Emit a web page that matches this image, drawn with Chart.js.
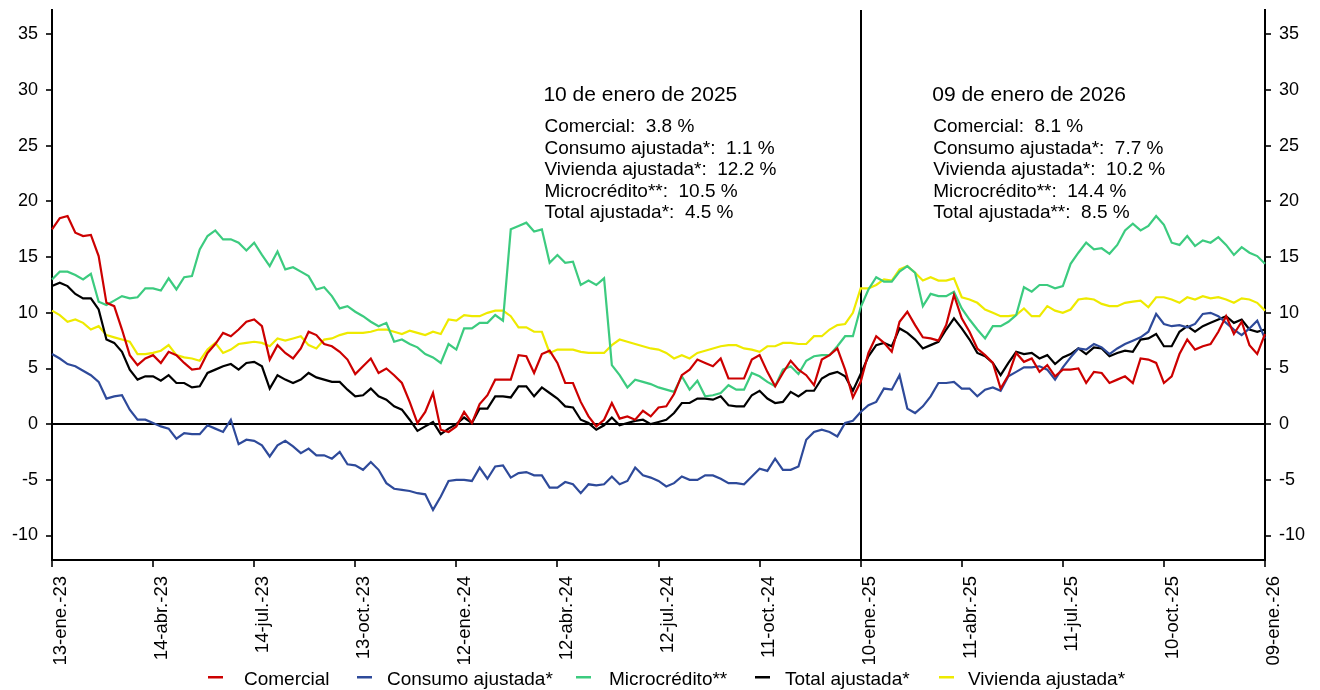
<!DOCTYPE html>
<html lang="es">
<head>
<meta charset="utf-8">
<title>Crecimiento real anual de la cartera</title>
<script src="https://cdn.jsdelivr.net/npm/chart.js@4.4.1/dist/chart.umd.min.js"></script>
<style>
  html, body { margin: 0; padding: 0; background: #fff; }
  #contenedor { width: 1320px; height: 690px; position: relative; }
</style>
</head>
<body>
<div id="contenedor"><canvas id="grafico"></canvas></div>
<script>
// Series semanales (%), desde 13-ene-23 hasta 09-ene-26
const comercial = [17.5, 18.5, 18.7, 17.2, 16.9, 17.0, 15.1, 10.9, 10.6, 8.5, 6.2, 5.3, 5.9, 6.2, 5.5, 6.5, 6.2, 5.5, 4.9, 5.0, 6.4, 7.2, 8.2, 7.9, 8.5, 9.2, 9.4, 8.8, 5.8, 7.1, 6.4, 5.9, 6.8, 8.3, 8.0, 7.2, 7.0, 6.5, 5.8, 4.5,
  5.2, 5.9, 4.6, 5.0, 4.4, 3.7, 2.0, 0.1, 1.1, 2.8, -0.5, -0.7, -0.2, 1.1, 0.1, 1.8, 2.6, 4.0, 4.0, 4.0, 6.2, 6.1, 4.6, 6.3, 6.6, 5.5, 3.7, 3.7, 2.0, 0.7, -0.2, 0.4, 1.9, 0.5, 0.7, 0.4, 1.2, 0.7, 1.5,
  1.6, 2.7, 4.4, 4.9, 5.8, 5.5, 5.2, 5.9, 4.1, 4.1, 4.1, 5.8, 6.2, 4.7, 3.4, 4.6, 5.7, 4.9, 4.4, 3.5, 5.8, 6.2, 6.8, 4.9, 2.4, 3.8, 6.4, 7.9, 7.3, 6.5, 9.2, 10.1, 8.9, 7.8, 7.7, 7.5, 8.9, 11.6,
  9.5, 8.3, 6.8, 6.2, 5.5, 3.2, 4.4, 6.4, 5.6, 5.9, 4.7, 5.3, 4.3, 4.9, 4.9, 5.0, 3.7, 4.7, 4.6, 3.7, 4.0, 4.3, 3.7, 5.9, 5.8, 5.5, 3.7, 4.3, 6.3, 7.6, 6.7, 7.0, 7.2, 8.3, 9.7, 8.1, 9.2, 7.1, 6.3, 8.1];

const consumo = [6.3, 5.9, 5.4, 5.2, 4.8, 4.4, 3.8, 2.3, 2.5, 2.6, 1.3, 0.4, 0.4, 0.1, -0.2, -0.4, -1.3, -0.8, -0.9, -0.9, -0.1, -0.4, -0.7, 0.4, -1.8, -1.4, -1.5, -1.9, -2.9, -1.9, -1.5, -2.0, -2.6, -2.2, -2.8, -2.8, -3.1, -2.5, -3.6, -3.7,
  -4.1, -3.4, -4.1, -5.3, -5.8, -5.9, -6.0, -6.2, -6.3, -7.7, -6.5, -5.1, -5.0, -5.0, -5.1, -3.9, -4.9, -3.8, -3.7, -4.8, -4.4, -4.3, -4.6, -4.6, -5.7, -5.7, -5.2, -5.4, -6.2, -5.4, -5.5, -5.4, -4.7, -5.4, -5.1, -3.9, -4.6, -4.8, -5.1,
  -5.6, -5.3, -4.7, -5.0, -5.0, -4.6, -4.6, -4.9, -5.3, -5.3, -5.4, -4.7, -4.0, -4.2, -3.1, -4.1, -4.1, -3.8, -1.4, -0.7, -0.5, -0.7, -1.1, 0.1, 0.3, 1.1, 1.7, 2.0, 3.2, 3.1, 4.4, 1.4, 1.0, 1.6, 2.5, 3.7, 3.7, 3.8,
  3.2, 3.2, 2.5, 3.1, 3.3, 3.0, 4.3, 4.7, 5.1, 5.1, 5.2, 4.9, 4.0, 5.1, 6.0, 6.8, 6.7, 7.2, 6.9, 6.3, 6.8, 7.2, 7.5, 7.8, 8.3, 9.9, 9.0, 8.8, 8.9, 8.7, 9.0, 9.9, 10.0, 9.7, 9.1, 8.5, 8.0, 8.6, 9.3, 7.7];

const microcredito = [13.0, 13.7, 13.7, 13.4, 13.0, 13.5, 11.0, 10.7, 11.1, 11.5, 11.3, 11.4, 12.2, 12.2, 12.0, 13.1, 12.1, 13.2, 13.3, 15.7, 16.9, 17.4, 16.6, 16.6, 16.3, 15.6, 16.3, 15.2, 14.2, 15.5, 13.9, 14.1, 13.7, 13.3, 12.1, 12.3, 11.5, 10.4, 10.6, 10.1,
  9.7, 9.2, 8.8, 9.1, 7.4, 7.6, 7.2, 6.9, 6.3, 6.0, 5.5, 7.2, 6.7, 8.6, 8.6, 9.1, 9.1, 9.8, 9.3, 17.5, 17.8, 18.1, 17.3, 17.5, 14.5, 15.2, 14.5, 14.6, 12.5, 12.9, 12.5, 13.1, 5.3, 4.4, 3.3, 4.0, 3.8, 3.6, 3.3,
  3.1, 2.9, 4.3, 3.1, 3.9, 2.5, 2.6, 2.8, 3.5, 3.1, 3.1, 4.6, 4.3, 3.8, 3.4, 4.9, 5.2, 4.5, 5.7, 6.1, 6.2, 6.2, 7.0, 7.9, 7.9, 10.5, 12.1, 13.2, 12.8, 12.8, 13.7, 14.2, 13.6, 10.6, 11.7, 11.5, 11.5, 11.9,
  10.4, 9.4, 8.5, 7.7, 8.8, 8.8, 9.2, 9.8, 12.3, 11.9, 12.5, 12.5, 12.2, 12.4, 14.4, 15.4, 16.3, 15.7, 15.8, 15.3, 16.1, 17.4, 18.0, 17.4, 17.8, 18.7, 17.9, 16.3, 16.1, 16.9, 16.0, 16.5, 16.3, 16.8, 16.1, 15.2, 15.9, 15.4, 15.1, 14.4];

const total = [12.4, 12.7, 12.4, 11.7, 11.3, 11.3, 10.3, 7.6, 7.3, 6.5, 4.9, 4.0, 4.3, 4.3, 3.9, 4.4, 3.7, 3.7, 3.3, 3.4, 4.6, 4.9, 5.2, 5.4, 4.9, 5.5, 5.6, 5.2, 3.2, 4.4, 4.0, 3.7, 4.0, 4.6, 4.2, 4.0, 3.8, 3.8, 3.1, 2.5,
  2.6, 3.2, 2.5, 2.2, 1.6, 1.3, 0.4, -0.6, -0.2, 0.2, -0.9, -0.4, 0.0, 0.6, 0.1, 1.4, 1.4, 2.5, 2.5, 2.4, 3.4, 3.4, 2.5, 3.3, 2.8, 2.3, 1.6, 1.5, 0.4, 0.1, -0.5, -0.1, 0.6, -0.1, 0.1, 0.3, 0.4, 0.0, 0.2,
  0.4, 1.0, 1.9, 1.9, 2.3, 2.3, 2.2, 2.5, 1.7, 1.6, 1.6, 2.6, 3.0, 2.3, 1.9, 2.0, 2.9, 2.5, 3.0, 3.0, 4.1, 4.5, 4.7, 4.3, 3.0, 4.5, 6.1, 7.1, 7.3, 7.0, 8.6, 8.2, 7.6, 6.8, 7.1, 7.4, 8.5, 9.5,
  8.6, 7.6, 6.4, 6.1, 5.5, 4.4, 5.5, 6.5, 6.3, 6.4, 5.9, 6.2, 5.4, 6.0, 6.3, 6.8, 6.3, 6.9, 6.8, 6.1, 6.4, 6.6, 6.5, 7.6, 7.7, 8.1, 7.0, 7.0, 8.3, 8.8, 8.3, 8.8, 9.1, 9.4, 9.7, 9.1, 9.4, 8.5, 8.3, 8.5];

const vivienda = [10.2, 9.8, 9.2, 9.4, 9.1, 8.5, 8.8, 8.0, 7.8, 7.6, 7.4, 6.3, 6.3, 6.4, 6.6, 7.1, 6.2, 6.0, 5.9, 5.7, 6.7, 7.3, 6.4, 6.7, 7.2, 7.3, 7.4, 7.3, 7.0, 7.7, 7.5, 7.7, 7.9, 7.1, 6.8, 7.6, 7.7, 8.0, 8.2, 8.2,
  8.2, 8.3, 8.5, 8.5, 8.3, 8.1, 8.4, 8.2, 8.0, 8.3, 8.1, 9.4, 9.3, 9.8, 9.7, 9.7, 10.0, 10.2, 10.2, 9.7, 8.7, 8.7, 8.3, 8.3, 6.4, 6.7, 6.7, 6.7, 6.5, 6.4, 6.4, 6.4, 7.1, 7.6, 7.4, 7.2, 7.0, 6.8, 6.7,
  6.4, 5.9, 6.2, 5.9, 6.4, 6.6, 6.8, 7.0, 7.1, 7.1, 6.8, 6.7, 6.5, 7.0, 7.0, 7.3, 7.3, 7.2, 7.2, 7.9, 7.9, 8.5, 8.9, 9.0, 10.0, 12.2, 12.2, 12.5, 13.0, 12.9, 13.9, 14.2, 13.6, 12.9, 13.2, 12.9, 12.9, 13.1,
  11.4, 11.2, 10.9, 10.3, 10.0, 9.7, 9.7, 9.8, 10.4, 9.7, 9.7, 10.6, 10.2, 10.0, 10.3, 11.2, 11.3, 11.2, 10.8, 10.6, 10.6, 10.9, 11.0, 11.1, 10.5, 11.4, 11.4, 11.2, 10.9, 11.4, 11.2, 11.5, 11.3, 11.4, 11.2, 10.9, 11.3, 11.2, 10.9, 10.2];

// Etiquetas del eje horizontal (una cada 13 semanas) y marcas del eje vertical
const etiquetasEje = ['13-ene.-23', '14-abr.-23', '14-jul.-23', '13-oct.-23', '12-ene.-24', '12-abr.-24',
  '12-jul.-24', '11-oct.-24', '10-ene.-25', '11-abr.-25', '11-jul.-25', '10-oct.-25', '09-ene.-26'];
const marcasY = [-10, -5, 0, 5, 10, 15, 20, 25, 30, 35];
const nombresSeries = ['Comercial', 'Consumo ajustada*', 'Microcrédito**', 'Total ajustada*', 'Vivienda ajustada*'];

// Categorías: viernes de cada semana
const meses = ['ene', 'feb', 'mar', 'abr', 'may', 'jun', 'jul', 'ago', 'sep', 'oct', 'nov', 'dic'];
const semanas = comercial.map((_, i) => {
  const d = new Date(2023, 0, 13 + 7 * i);
  return String(d.getDate()).padStart(2, '0') + '-' + meses[d.getMonth()] + '.-' + String(d.getFullYear()).slice(2);
});

const SALTO = 13;        // semanas entre etiquetas
const CORTE = 104;       // 10-ene-25, línea vertical
const fuente = "'Liberation Sans', Arial, sans-serif";
const colores = ['#cc0000', '#2e4a9a', '#3ccb7f', '#000000', '#eeea00'];

// Recuadros con el dato de cada fecha de corte
const notas = [
  { indice: CORTE, posicion: 63.2, titulo: '10 de enero de 2025',
    nombres: ['Comercial', 'Consumo ajustada*', 'Vivienda ajustada*', 'Microcrédito**', 'Total ajustada*'] },
  { indice: comercial.length - 1, posicion: 113.2, titulo: '09 de enero de 2026',
    nombres: ['Comercial', 'Consumo ajustada*', 'Vivienda ajustada*', 'Microcrédito**', 'Total ajustada**'] }
];
const seriesNota = [comercial, consumo, vivienda, microcredito, total];

// Leyenda inferior: inicio de cada trazo y de cada texto
const leyendaTrazo = [208, 357, 576, 755, 939];
const leyendaTexto = [244, 387, 609, 785, 968];

const textos = {
  id: 'textos',
  afterDraw(chart) {
    const { ctx, chartArea } = chart;
    const x = chart.scales.x;
    ctx.save();
    ctx.fillStyle = '#000';
    ctx.textAlign = 'left';
    ctx.textBaseline = 'alphabetic';
    notas.forEach(nota => {
      const px = x.getPixelForValue(nota.posicion);
      ctx.font = '21px ' + fuente;
      ctx.fillText(nota.titulo, px, chartArea.top + 91);
      ctx.font = '19px ' + fuente;
      nota.nombres.forEach((nombre, k) => {
        const valor = seriesNota[k][nota.indice].toFixed(1);
        ctx.fillText(nombre + ':  ' + valor + ' %', px + 1, chartArea.top + 122 + k * 21.6);
      });
    });

    ctx.font = '19px ' + fuente;
    ctx.textBaseline = 'middle';
    nombresSeries.forEach((nombre, k) => {
      ctx.fillStyle = colores[k];
      ctx.fillRect(leyendaTrazo[k], 676, 15, 2.5);
      ctx.fillStyle = '#000';
      ctx.fillText(nombre, leyendaTexto[k], 680);
    });
    ctx.restore();
  }
};

const ejeY = (posicion, ancho) => ({
  position: posicion,
  min: -12.2,
  max: 37.2,
  afterBuildTicks: eje => { eje.ticks = marcasY.map(v => ({ value: v })); },
  afterFit: eje => {
    eje.width = ancho;
    eje.paddingTop = 0;
    eje.paddingBottom = 0;
  },
  border: { color: '#000', width: 2 },
  grid: {
    drawOnChartArea: posicion === 'left',
    color: c => (c.tick && c.tick.value === 0 ? '#000' : 'rgba(0,0,0,0)'),
    lineWidth: 2,
    tickColor: '#333',
    tickLength: 6
  },
  ticks: { color: '#000', font: { size: 18 }, padding: 8 }
});

new Chart(document.getElementById('grafico'), {
  type: 'line',
  data: {
    labels: semanas,
    datasets: [comercial, consumo, microcredito, total, vivienda].map((serie, k) => ({
      label: nombresSeries[k],
      data: serie,
      borderColor: colores[k],
      backgroundColor: colores[k],
      borderWidth: 2.2,
      pointRadius: 0,
      tension: 0,
      yAxisID: 'y'
    }))
  },
  options: {
    responsive: true,
    maintainAspectRatio: false,
    animation: false,
    font: { family: fuente },
    layout: { padding: { top: 10, bottom: 20, left: 0, right: 0 } },
    plugins: { legend: { display: false }, tooltip: { enabled: false } },
    scales: {
      x: {
        afterBuildTicks: eje => { eje.ticks = eje.ticks.filter(t => t.value % SALTO === 0); },
        afterFit: eje => {
          eje.height = 110;
          eje.paddingLeft = 0;
          eje.paddingRight = 0;
        },
        border: { color: '#000', width: 2 },
        grid: {
          color: c => (c.tick && c.tick.value === CORTE ? '#000' : 'rgba(0,0,0,0)'),
          lineWidth: 2,
          tickColor: '#333',
          tickLength: 7
        },
        ticks: {
          autoSkip: false,
          minRotation: 90,
          maxRotation: 90,
          padding: 9,
          labelOffset: 9,
          color: '#000',
          font: { size: 18.5 },
          callback: v => etiquetasEje[v / SALTO]
        }
      },
      y: ejeY('left', 52),
      y2: ejeY('right', 55)
    }
  },
  plugins: [textos]
});
Chart.defaults.font.family = fuente;
</script>
</body>
</html>
